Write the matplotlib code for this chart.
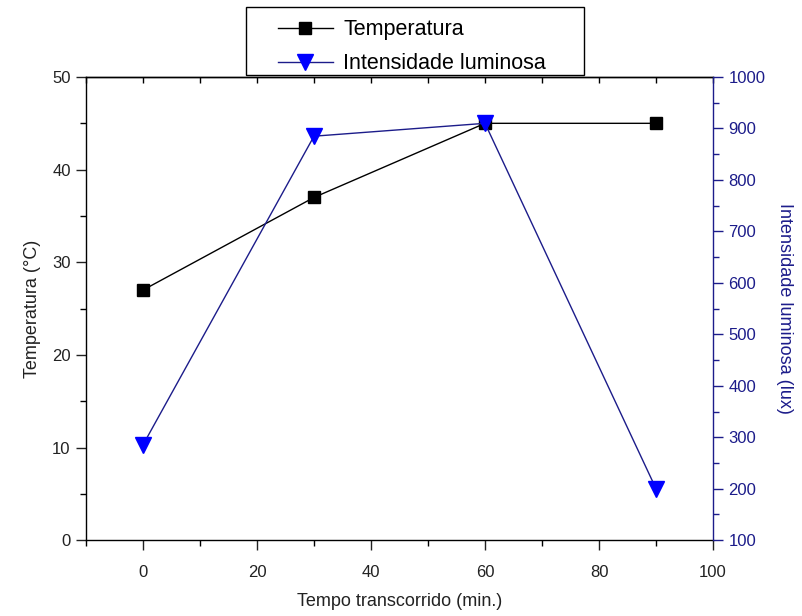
import matplotlib
matplotlib.use("Agg")
import matplotlib.pyplot as plt
from matplotlib.ticker import MultipleLocator
from matplotlib.patches import Rectangle

plt.rcParams['font.family'] = ['Liberation Sans', 'DejaVu Sans']

# data
tempo = [0, 30, 60, 90]
temperatura = [27, 37, 45, 45]
intensidade = [285, 885, 910, 200]

navy = '#1c1c8a'
txt = '#222222'

fig = plt.figure(figsize=(8.03, 6.16), dpi=100)
ax = fig.add_axes([0.107, 0.123, 0.781, 0.752])
ax2 = ax.twinx()

l1, = ax.plot(tempo, temperatura, color='black', lw=1.0, marker='s',
              markersize=9, markerfacecolor='black', markeredgecolor='black',
              label='Temperatura')
l2, = ax2.plot(tempo, intensidade, color=navy, lw=1.0, marker='v',
               markersize=12, markerfacecolor='#0000ff', markeredgecolor='#0000ff',
               label='Intensidade luminosa')

ax.set_xlim(-10, 100)
ax.set_ylim(0, 50)
ax2.set_ylim(100, 1000)

ax.xaxis.set_major_locator(MultipleLocator(20))
ax.xaxis.set_minor_locator(MultipleLocator(10))
ax.yaxis.set_major_locator(MultipleLocator(10))
ax.yaxis.set_minor_locator(MultipleLocator(5))
ax2.yaxis.set_major_locator(MultipleLocator(100))
ax2.yaxis.set_minor_locator(MultipleLocator(50))

ax.tick_params(which='major', direction='out', length=7, width=1, labelsize=12,
               colors=txt, pad=4)
ax.tick_params(axis='x', which='major', pad=11)
ax.tick_params(which='minor', direction='out', length=4, width=1)
ax2.tick_params(which='major', direction='out', length=7, width=1, labelsize=12,
                colors=navy, pad=4)
ax2.tick_params(which='minor', direction='out', length=4, width=1, colors=navy)

top = ax.secondary_xaxis('top')
top.xaxis.set_major_locator(MultipleLocator(10))
top.tick_params(direction='in', length=4, width=1, labeltop=False)

for s in ['left', 'bottom', 'top']:
    ax.spines[s].set_linewidth(1)
    ax.spines[s].set_color('black')
ax.spines['right'].set_visible(False)
for s in ['left', 'bottom', 'top']:
    ax2.spines[s].set_visible(False)
ax2.spines['right'].set_color(navy)
ax2.spines['right'].set_linewidth(1)
top.spines['top'].set_linewidth(1)

ax.set_xlabel('Tempo transcorrido (min.)', fontsize=13, color=txt, labelpad=9)
ax.set_ylabel('Temperatura (°C)', fontsize=13, color=txt, labelpad=8)
ax2.set_ylabel('Intensidade luminosa (lux)', fontsize=13, color=navy,
               rotation=270, labelpad=20)

# legend box drawn separately (wide side padding like the original)
box = Rectangle((0.306, 0.878), 0.421, 0.110, transform=fig.transFigure,
                facecolor='white', edgecolor='black', linewidth=1, zorder=9)
fig.patches.append(box)

leg = fig.legend([l1, l2], ['Temperatura', 'Intensidade luminosa'],
                 loc='upper left', bbox_to_anchor=(0.346, 0.969),
                 fontsize=15.5, frameon=False, handlelength=2.55,
                 labelspacing=0.62, borderpad=0, handletextpad=0.5,
                 borderaxespad=0)
leg.set_zorder(10)

fig.savefig('out.png', dpi=100)
